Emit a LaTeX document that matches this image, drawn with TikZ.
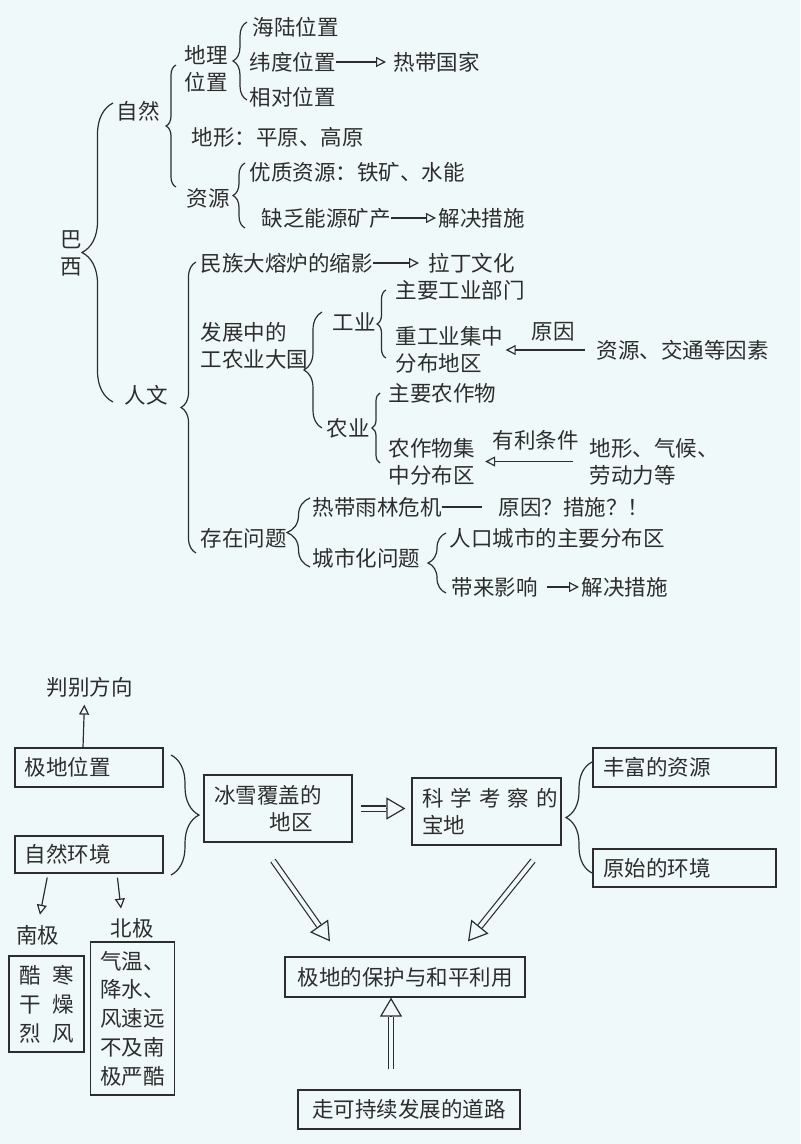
\documentclass[tikz,border=0pt]{standalone}
\usepackage{fontspec}
\newfontfamily\cjk{Noto Sans CJK SC}
\usepackage{tikz}
\usetikzlibrary{arrows.meta,calc,decorations.pathreplacing}
\definecolor{bgc}{RGB}{239,249,250}
\definecolor{ink}{RGB}{45,45,45}

\newcommand\hollowarrow[2]{%
  \draw[draw=ink,double=bgc,double distance=2pt] (#1) -- ($(#2)!9.5pt!(#1)$);
  \draw[draw=ink,-{Triangle[open,length=9.5pt,width=11pt]}] ($(#2)!9.5pt!(#1)$) -- (#2);
}

\begin{document}
\begin{tikzpicture}[x=0.5pt,y=-0.5pt,line width=0.6pt,
        every node/.style={font=\cjk\fontsize{10.75}{13.5}\selectfont,text=ink},
        txt/.style={inner sep=0pt,anchor=west,align=left},
        tall/.style={font=\cjk\fontsize{10.75}{14.4}\selectfont},
        box/.style={draw=ink,inner xsep=5pt,inner ysep=0pt,align=left},
        brc/.style={draw=ink,decorate,decoration={brace,amplitude=#1}},
        tri/.style={draw=ink,-{Triangle[open,length=5pt,width=5pt]}}]
        \fill[bgc] (0,0) rectangle (800,1144);
        \useasboundingbox (0,0) rectangle (800,1144);

        % Brazil
        \node[align=center,inner sep=0pt] (ba) at (71,253.5) {巴\\西};
        \node[txt] (nat) at (116,111) {自然};
        \node[txt] (hum) at (124,395) {人文};
        \node[txt] (geo) at (184,68.5) {地理\\位置};
        \node[txt] (sea) at (252,27) {海陆位置};
        \node[txt] (lat) at (249,62) {纬度位置};
        \node[txt] (hot) at (393,62) {热带国家};
        \node[txt] (rel) at (249,97) {相对位置};
        \node[txt] (land) at (191,137) {地形：平原、高原};
        \node[txt] (res) at (186,198) {资源};
        \node[txt] (good) at (249,172) {优质资源：铁矿、水能};
        \node[txt] (lack) at (261,218) {缺乏能源矿产};
        \node[txt] (sol1) at (438,218) {解决措施};
        \node[txt] (mix) at (200,263) {民族大熔炉的缩影};
        \node[txt] (latin) at (428,263) {拉丁文化};
        \node[txt] (dev) at (200,346) {发展中的\\工农业大国};
        \node[txt] (ind) at (332,322) {工业};
        \node[txt] (mainind) at (395,290) {主要工业部门};
        \node[txt] (heavy) at (395,350) {重工业集中\\分布地区};
        \node[txt] (why) at (531,332) {原因};
        \node[txt] (fact) at (596,350) {资源、交通等因素};
        \node[txt] (agr) at (326,428) {农业};
        \node[txt] (crop) at (388,393) {主要农作物};
        \node[txt] (farm) at (388,461.5) {农作物集\\中分布区};
        \node[txt] (cond) at (492,440) {有利条件};
        \node[txt] (terr) at (589,461.5) {地形、气候、\\劳动力等};
        \node[txt] (prob) at (200,538) {存在问题};
        \node[txt] (forest) at (312,507) {热带雨林危机};
        \node[txt] (ask) at (498,507) {原因？措施？！};
        \node[txt] (city) at (312,558) {城市化问题};
        \node[txt] (pop) at (449,538) {人口城市的主要分布区};
        \node[txt] (eff) at (451,587) {带来影响};
        \node[txt] (sol2) at (581,587) {解决措施};

        \draw[brc=15.5pt] (113,402) -- (113,103);
        \draw[brc=5pt] (176,187) -- (176,65);
        \draw[brc=7pt] (247,100) -- (247,22);
        \draw[brc=6pt] (245,228) -- (245,163);
        \draw[brc=7.5pt] (196,553) -- (196,262);
        \draw[brc=9pt] (322,428) -- (322,312);
        \draw[brc=4.5pt] (386,358) -- (386,290);
        \draw[brc=4pt] (380,463) -- (380,393);
        \draw[brc=11.5pt] (310,567) -- (310,498);
        \draw[brc=9pt] (446,593) -- (446,533);

        \draw[tri,shorten >=3.5pt] (lat) -- (hot);
        \draw[tri,shorten >=1pt] (lack) -- (sol1);
        \draw[tri,shorten >=4.5pt] (mix) -- (latin);
        \draw[tri,shorten <=5.5pt,shorten >=1pt] (fact) -- (heavy);
        \draw[tri,shorten <=8pt,shorten >=5pt] (terr) -- (farm);
        \draw[draw=ink,shorten >=8pt] (forest) -- (ask);
        \draw[tri,shorten <=4.5pt,shorten >=1pt] (eff) -- (sol2);

        % polar regions
        \node[txt] (dir) at (46,687) {判别方向};
        \node[box,text width=64pt,minimum height=19.5pt] (polar) at (89,767.5) {极地位置};
        \node[box,text width=64pt,minimum height=18.5pt] (nature) at (89,854.5) {自然环境};
        \node[box,text width=64pt,minimum height=33.5pt] (ice) at (278,808.5) {冰雪覆盖的\\\hspace*{2.6em}地区};
        \node[box,text width=64.5pt,minimum height=33.5pt] (sci) at (486.5,811.5) {科~学~考~察~的\\宝地};
        \node[box,text width=81.5pt,minimum height=19.5pt] (rich) at (684.5,767.5) {丰富的资源};
        \node[box,text width=81.5pt,minimum height=19pt] (raw) at (684.5,868) {原始的环境};
        \node[inner sep=0pt] (sp) at (38,935) {南极};
        \node[inner sep=0pt] (np) at (132,928) {北极};
        \node[box,tall,minimum width=36.5pt,minimum height=48pt] (spbox) at (46.5,1004) {酷\kern.55em寒\\干\kern.55em燥\\烈\kern.55em风};
        \node[box,tall,minimum width=40.5pt,minimum height=76.5pt] (npbox) at (132.5,1018.5) {气温、\\降水、\\风速远\\不及南\\极严酷};
        \node[box,minimum width=120pt,minimum height=20pt] (protect) at (405,977) {极地的保护与和平利用};
        \node[box,minimum width=111pt,minimum height=19.5pt] (road) at (409,1109.5) {走可持续发展的道路};

        \draw[brc=14pt] (171,755) -- (171,875);
        \draw[brc=13pt] (592,873) -- (592,762);

        \draw[tri,shorten >=3.5pt] ($(polar.north)+(-6,0)$) -- ($(dir.south)+(-5,0)$);
        \draw[tri,shorten <=2pt,shorten >=5pt] ($(nature.south)+(-41,0)$) -- (sp.north);
        \draw[tri,shorten <=2pt,shorten >=4.5pt] ($(nature.south)+(28,0)$) -- ($(np.north)+(-10,0)$);

        \coordinate (h1s) at ($(ice.east)+(8,0)$);
        \coordinate (h1e) at ($(ice.east -| sci.west)+(-6,0)$);
        \coordinate (h2s) at ($(ice.south)+(-5,18)$);
        \coordinate (h2e) at ($(protect.north)+(-75,-15)$);
        \coordinate (h3s) at ($(sci.south)+(46.5,15)$);
        \coordinate (h3e) at ($(protect.north)+(63,-15)$);
        \coordinate (h4s) at ($(road.north)+(-18,-20)$);
        \coordinate (h4e) at ($(protect.south)+(-14,0)$);
        \hollowarrow{h1s}{h1e}
        \hollowarrow{h2s}{h2e}
        \hollowarrow{h3s}{h3e}
        \hollowarrow{h4s}{h4e}
\end{tikzpicture}
\end{document}
